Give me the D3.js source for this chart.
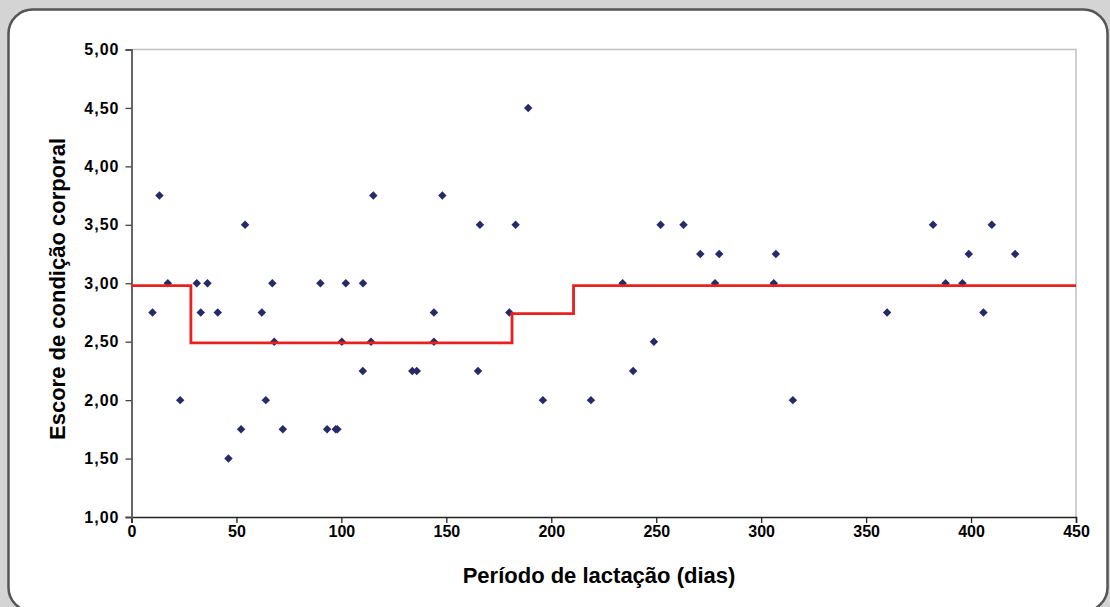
<!DOCTYPE html>
<html>
<head>
  <meta charset="utf-8">
  <script src="https://cdn.jsdelivr.net/npm/d3@7"></script>
  <style>
    body {
      margin: 0;
      background: #d4d4d4;
      font-family: 'Liberation Sans', Arial, sans-serif;
    }
    svg { display: block; }
    .tick text { font-family: 'Liberation Sans', Arial, sans-serif; font-weight: bold; font-size: 16px; fill: #000; }
    .y-axis .tick text { letter-spacing: 1px; }
    .axis-title { font-weight: bold; font-size: 22px; fill: #000; }
  </style>
</head>
<body>
<script>
  // lactation day and body condition score for each cow
  var days = [10.0, 13.3, 17.3, 23.2, 31.1, 33.0, 36.2, 41.1, 46.2, 52.2,
              54.1, 62.1, 64.0, 67.1, 68.0, 72.1, 90.0, 93.2, 97.3, 98.1,
              100.2, 102.1, 110.2, 110.3, 114.1, 115.2, 133.8, 135.9, 144.1, 144.1,
              148.1, 165.1, 166.0, 180.0, 183.0, 189.0, 196.0, 218.9, 234.0, 239.0,
              248.9, 252.1, 263.0, 271.0, 278.0, 280.0, 306.0, 307.0, 315.1, 360.0,
              381.9, 387.9, 395.9, 398.9, 405.9, 409.9, 421.0];
  var scores = [2.75, 3.75, 3.00, 2.00, 3.00, 2.75, 3.00, 2.75, 1.50, 1.75,
                3.50, 2.75, 2.00, 3.00, 2.50, 1.75, 3.00, 1.75, 1.75, 1.75,
                2.50, 3.00, 2.25, 3.00, 2.50, 3.75, 2.25, 2.25, 2.75, 2.50,
                3.75, 2.25, 3.50, 2.75, 3.50, 4.50, 2.00, 2.00, 3.00, 2.25,
                2.50, 3.50, 3.50, 3.25, 3.00, 3.25, 3.00, 3.25, 2.00, 2.75,
                3.50, 3.00, 3.00, 3.25, 2.75, 3.50, 3.25];

  // step means (start day of each period, mean score)
  var stepDays = [0, 28.3, 181.3, 210.6, 450];
  var stepMeans = [2.98, 2.49, 2.74, 2.98, 2.98];

  var xTicks = [0, 50, 100, 150, 200, 250, 300, 350, 400, 450];
  var yTicks = [1, 1.5, 2, 2.5, 3, 3.5, 4, 4.5, 5];

  var W = 1110, H = 607;
  var plotL = 131.5, plotR = 1076, plotT = 49.5, plotB = 517;

  var svg = d3.select("body").append("svg")
      .attr("width", W)
      .attr("height", H);

  // rounded panel
  svg.append("rect")
      .attr("x", 8.5).attr("y", 9.5)
      .attr("width", 1099).attr("height", 602)
      .attr("rx", 24).attr("ry", 24)
      .attr("fill", "#fff")
      .attr("stroke", "#555")
      .attr("stroke-width", 2.5);

  var x = d3.scaleLinear().domain([0, 450]).range([plotL, plotR]);
  var y = d3.scaleLinear().domain([1, 5]).range([plotB, plotT]);

  // plot area border (top and right)
  svg.append("path")
      .attr("d", "M" + plotL + "," + plotT + "H" + plotR + "V" + plotB)
      .attr("fill", "none")
      .attr("stroke", "#c0c0c0")
      .attr("stroke-width", 1.5);

  // x axis
  var xAxis = svg.append("g")
      .attr("class", "x-axis")
      .attr("transform", "translate(0," + plotB + ")")
      .call(d3.axisBottom(x).tickValues(xTicks).tickSize(6).tickPadding(3).tickFormat(d3.format("d")));
  xAxis.select(".domain").attr("stroke", "#222").attr("stroke-width", 1.5);
  xAxis.selectAll(".tick line").attr("stroke", "#222").attr("stroke-width", 1.3);

  // y axis
  var yAxis = svg.append("g")
      .attr("class", "y-axis")
      .attr("transform", "translate(" + plotL + ",0)")
      .call(d3.axisLeft(y).tickValues(yTicks).tickSize(6).tickPadding(6)
        .tickFormat(function(d) { return d3.format(".2f")(d).replace(".", ","); }));
  yAxis.select(".domain").attr("stroke", "#666").attr("stroke-width", 2);
  yAxis.selectAll(".tick line").attr("stroke", "#444").attr("stroke-width", 1.3);

  // scatter points
  var pts = days.map(function(d, i) { return [d, scores[i]]; });
  svg.append("g").selectAll("path")
      .data(pts)
    .enter().append("path")
      .attr("d", d3.symbol().type(d3.symbolSquare).size(36))
      .attr("transform", function(d) {
        return "translate(" + x(d[0]) + "," + y(d[1]) + ") rotate(45)";
      })
      .attr("fill", "#262b68");

  // step line
  var steps = stepDays.map(function(d, i) { return [d, stepMeans[i]]; });
  svg.append("path")
      .datum(steps)
      .attr("fill", "none")
      .attr("stroke", "#e8201e")
      .attr("stroke-width", 2.8)
      .attr("d", d3.line()
        .x(function(d) { return x(d[0]); })
        .y(function(d) { return y(d[1]); })
        .curve(d3.curveStepAfter));

  // axis titles
  svg.append("text")
      .attr("class", "axis-title")
      .attr("x", 599)
      .attr("y", 583)
      .attr("text-anchor", "middle")
      .text("Período de lactação (dias)");

  svg.append("text")
      .attr("class", "axis-title")
      .attr("transform", "translate(65,289) rotate(-90)")
      .attr("text-anchor", "middle")
      .text("Escore de condição corporal");
</script>
</body>
</html>
